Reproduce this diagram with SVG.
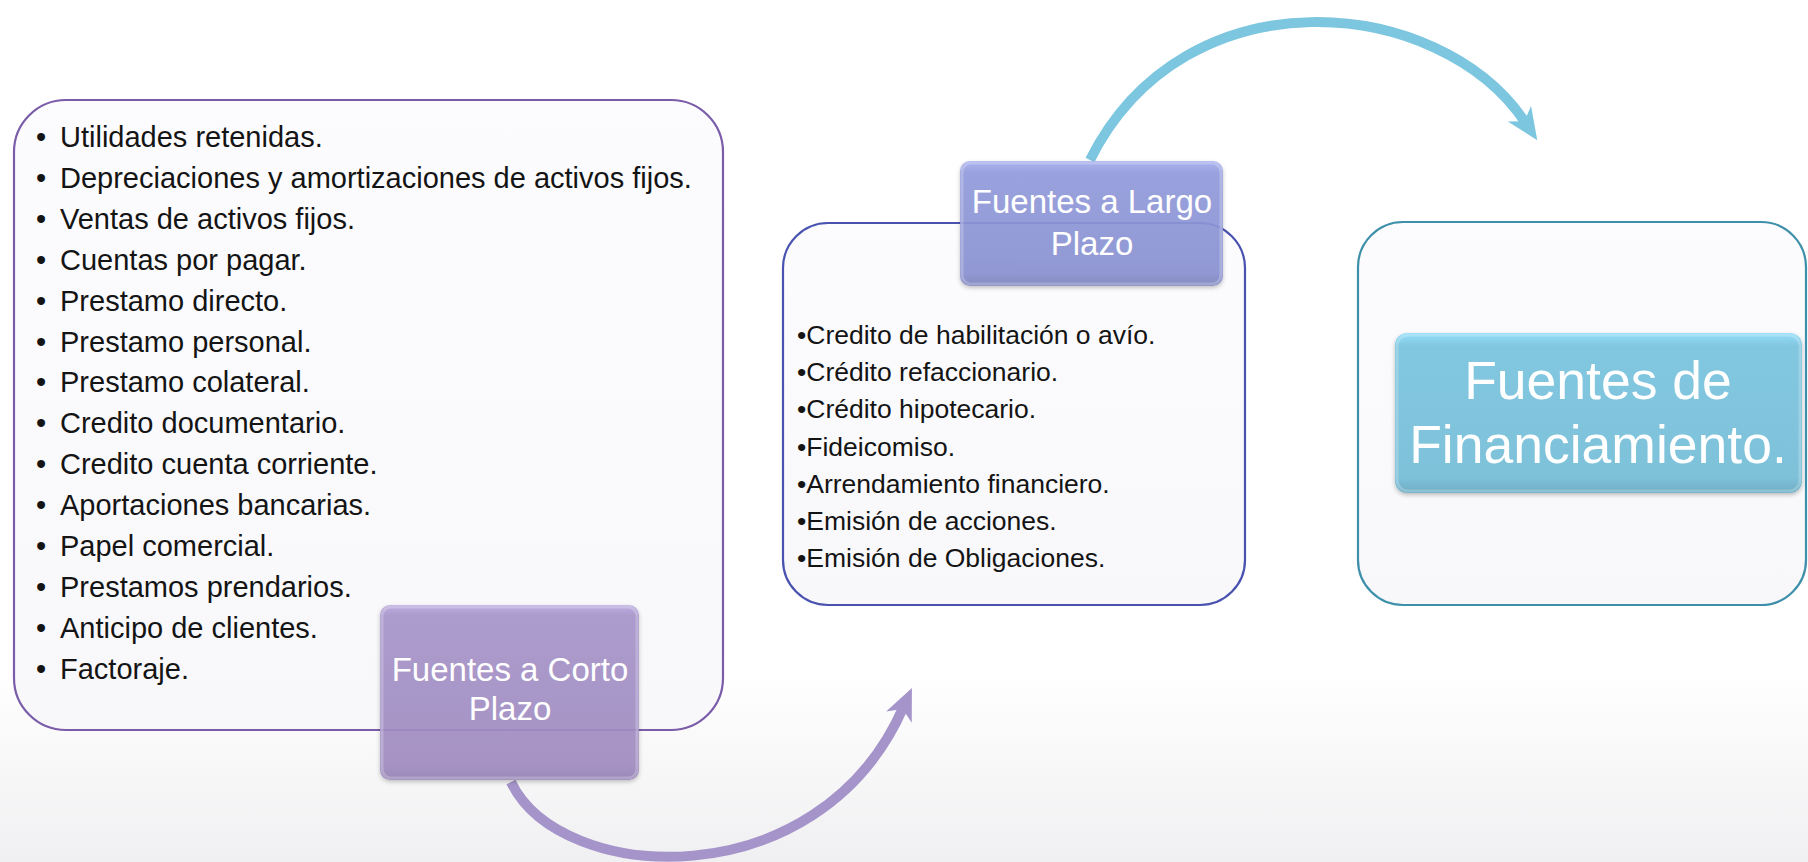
<svg xmlns="http://www.w3.org/2000/svg" width="1808" height="862" viewBox="0 0 1808 862">
<defs>
<style>
.txt{font-family:"Liberation Sans",Arial,sans-serif;fill:#141414}
.l1{font-size:29px}
.l2{font-size:26.5px}
.ttl{font-family:"Liberation Sans",Arial,sans-serif;fill:#ffffff;text-anchor:middle;font-size:33px}
.big{font-size:53.5px}
.panel{stroke-width:2.2}
.bevel{fill:none;stroke:#ffffff;stroke-opacity:0.22;stroke-width:3}
.conn{fill:none;stroke-width:10;stroke-linecap:butt}
</style>
<linearGradient id="bg" x1="0" y1="0" x2="0" y2="1">
<stop offset="0" stop-color="#ffffff"/>
<stop offset="0.78" stop-color="#ffffff"/>
<stop offset="1" stop-color="#f0f0f2"/>
</linearGradient>
<linearGradient id="gPanel" x1="0" y1="0" x2="0" y2="1">
<stop offset="0" stop-color="#fcfcfe"/>
<stop offset="1" stop-color="#f8f8fb"/>
</linearGradient>
<linearGradient id="gCorto" x1="0" y1="0" x2="0" y2="1">
<stop offset="0" stop-color="#bba9e0"/>
<stop offset="0.06" stop-color="#a895cb"/>
<stop offset="0.92" stop-color="#a18dc2"/>
<stop offset="1" stop-color="#9381b4"/>
</linearGradient>
<linearGradient id="gLargo" x1="0" y1="0" x2="0" y2="1">
<stop offset="0" stop-color="#a6aef0"/>
<stop offset="0.1" stop-color="#939cdd"/>
<stop offset="0.9" stop-color="#8a92d2"/>
<stop offset="1" stop-color="#7c84bd"/>
</linearGradient>
<linearGradient id="gFin" x1="0" y1="0" x2="0" y2="1">
<stop offset="0" stop-color="#95defa"/>
<stop offset="0.08" stop-color="#82c7e0"/>
<stop offset="0.9" stop-color="#7ec2da"/>
<stop offset="1" stop-color="#6fadc4"/>
</linearGradient>
<filter id="shadow" x="-10%" y="-10%" width="120%" height="130%">
<feDropShadow dx="0" dy="2" stdDeviation="2" flood-color="#000" flood-opacity="0.25"/>
</filter>
<marker id="headBlue" markerUnits="userSpaceOnUse" markerWidth="34" markerHeight="30" viewBox="0 0 34 30" refX="10" refY="15" orient="auto">
<path d="M0,1 L32,15 L0,29 L9,15 Z" fill="#7cc6df"/>
</marker>
<marker id="headPurple" markerUnits="userSpaceOnUse" markerWidth="34" markerHeight="30" viewBox="0 0 34 30" refX="10" refY="15" orient="auto">
<path d="M0,1 L32,15 L0,29 L9,15 Z" fill="#a594ca"/>
</marker>
</defs>

<rect x="0" y="0" width="1808" height="862" fill="url(#bg)"/>

<g id="connectors">
<path class="conn" d="M 511 782 C 560 885, 818 900, 903 708" stroke="#a594ca" marker-end="url(#headPurple)"/>
<path class="conn" d="M 1090 160 C 1185 -30, 1440 -5, 1525 122" stroke="#7cc6df" marker-end="url(#headBlue)"/>
</g>

<g id="node-corto-list">
<rect class="panel" x="14" y="100" width="709" height="630" rx="52" fill="url(#gPanel)" stroke="#7a5ca8"/>
<text class="txt l1" x="36" y="147"><tspan>•</tspan><tspan x="60">Utilidades retenidas.</tspan></text>
<text class="txt l1" x="36" y="187.9"><tspan>•</tspan><tspan x="60">Depreciaciones y amortizaciones de activos fijos.</tspan></text>
<text class="txt l1" x="36" y="228.8"><tspan>•</tspan><tspan x="60">Ventas de activos fijos.</tspan></text>
<text class="txt l1" x="36" y="269.7"><tspan>•</tspan><tspan x="60">Cuentas por pagar.</tspan></text>
<text class="txt l1" x="36" y="310.6"><tspan>•</tspan><tspan x="60">Prestamo directo.</tspan></text>
<text class="txt l1" x="36" y="351.5"><tspan>•</tspan><tspan x="60">Prestamo personal.</tspan></text>
<text class="txt l1" x="36" y="392.4"><tspan>•</tspan><tspan x="60">Prestamo colateral.</tspan></text>
<text class="txt l1" x="36" y="433.3"><tspan>•</tspan><tspan x="60">Credito documentario.</tspan></text>
<text class="txt l1" x="36" y="474.2"><tspan>•</tspan><tspan x="60">Credito cuenta corriente.</tspan></text>
<text class="txt l1" x="36" y="515.1"><tspan>•</tspan><tspan x="60">Aportaciones bancarias.</tspan></text>
<text class="txt l1" x="36" y="556"><tspan>•</tspan><tspan x="60">Papel comercial.</tspan></text>
<text class="txt l1" x="36" y="596.9"><tspan>•</tspan><tspan x="60">Prestamos prendarios.</tspan></text>
<text class="txt l1" x="36" y="637.8"><tspan>•</tspan><tspan x="60">Anticipo de clientes.</tspan></text>
<text class="txt l1" x="36" y="678.7"><tspan>•</tspan><tspan x="60">Factoraje.</tspan></text>
</g>

<g id="node-largo-list">
<rect class="panel" x="783" y="223" width="462" height="382" rx="45" fill="url(#gPanel)" stroke="#4a52b0"/>
<text class="txt l2" x="797" y="344">•Credito de habilitación o avío.</text>
<text class="txt l2" x="797" y="381.2">•Crédito refaccionario.</text>
<text class="txt l2" x="797" y="418.4">•Crédito hipotecario.</text>
<text class="txt l2" x="797" y="455.6">•Fideicomiso.</text>
<text class="txt l2" x="797" y="492.8">•Arrendamiento financiero.</text>
<text class="txt l2" x="797" y="530">•Emisión de acciones.</text>
<text class="txt l2" x="797" y="567.2">•Emisión de Obligaciones.</text>
</g>

<g id="node-fin-panel">
<rect class="panel" x="1358" y="222" width="448" height="383" rx="45" fill="url(#gPanel)" stroke="#3e90aa"/>
</g>

<g id="node-corto-title">
<rect x="380" y="605" width="259" height="175" rx="10" fill="url(#gCorto)" fill-opacity="0.9" filter="url(#shadow)"/>
<rect class="bevel" x="382" y="607" width="255" height="171" rx="9"/>
<text class="ttl" x="510" y="681">Fuentes a Corto</text>
<text class="ttl" x="510" y="720">Plazo</text>
</g>

<g id="node-largo-title">
<rect x="960" y="161" width="263" height="125" rx="10" fill="url(#gLargo)" fill-opacity="0.9" filter="url(#shadow)"/>
<rect class="bevel" x="962" y="163" width="259" height="121" rx="9"/>
<text class="ttl" x="1092" y="213">Fuentes a Largo</text>
<text class="ttl" x="1092" y="255">Plazo</text>
</g>

<g id="node-fin-title">
<rect x="1395" y="333" width="407" height="160" rx="12" fill="url(#gFin)" filter="url(#shadow)"/>
<rect class="bevel" x="1397" y="335" width="403" height="156" rx="11"/>
<text class="ttl big" x="1598" y="399">Fuentes de</text>
<text class="ttl big" x="1598" y="463">Financiamiento.</text>
</g>
</svg>
